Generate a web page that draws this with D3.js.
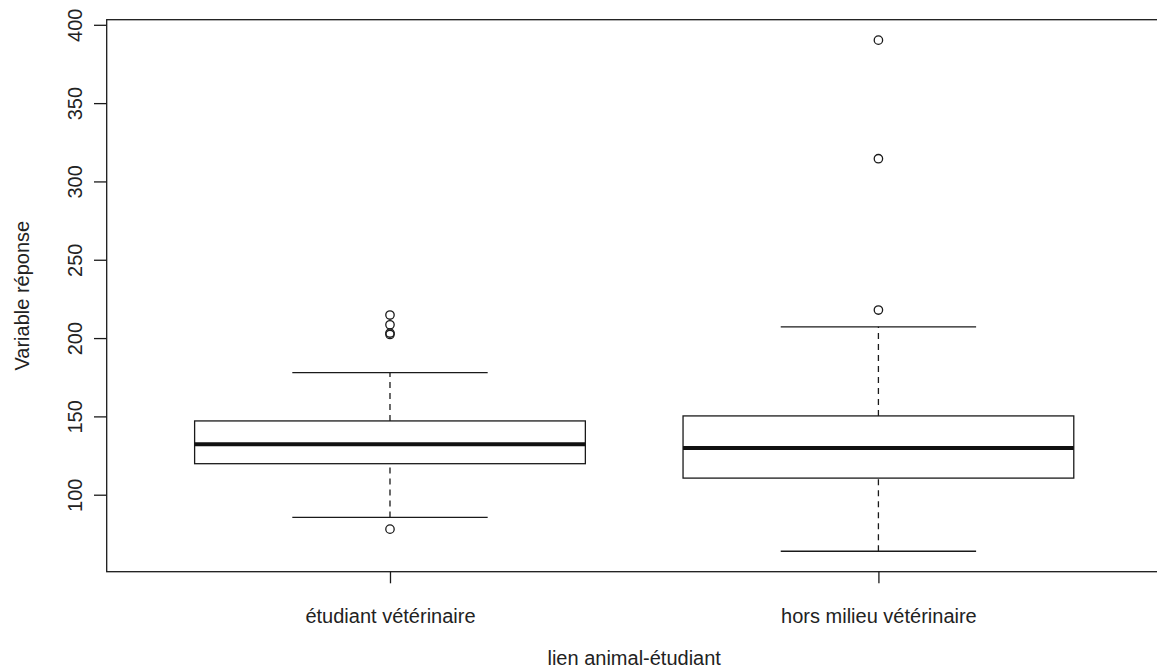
<!DOCTYPE html>
<html>
<head>
<meta charset="utf-8">
<script src="https://cdn.jsdelivr.net/npm/d3@7"></script>
<style>
  html, body { margin: 0; padding: 0; background: #fff; }
  svg { display: block; font-family: "Liberation Sans", Arial, Helvetica, sans-serif; }
</style>
</head>
<body>
<svg id="chart" width="1157" height="671"></svg>
<script>
// ---- data ----
const categories   = ["étudiant vétérinaire", "hors milieu vétérinaire"];
const whiskerLow   = [85.5, 63.9];
const q1           = [119.8, 110.6];
const median       = [132.2, 129.8];
const q3           = [147.1, 150.3];
const whiskerHigh  = [178.0, 207.2];
const outliers     = [[78.0, 202.3, 203.2, 208.5, 214.7], [217.9, 314.5, 390.2]];
const yTicks       = [100, 150, 200, 250, 300, 350, 400];
const xTitle       = "lien animal-étudiant";
const yTitle       = "Variable réponse";

// ---- layout ----
const W = 1157, H = 671;
const plot = { left: 106.7, right: 1161.7, top: 19.7, bottom: 571.7 };
const boxWex = 0.8, stapleWex = 0.5;
const fontSize = 20;
const ink = "#1a1a1a";

const svg = d3.select("#chart");

// y domain as R does: data range extended by 4%
const allVals = [].concat(whiskerLow, whiskerHigh, ...outliers);
const [mn, mx] = d3.extent(allVals);
const pad = (mx - mn) * 0.04;
const y = d3.scaleLinear().domain([mn - pad, mx + pad]).range([plot.bottom, plot.top]);

// x domain: 0.5 .. n+0.5 extended by 4%
const n = categories.length;
const xr = n; // width of 0.5..n+0.5
const x = d3.scaleLinear().domain([0.5 - 0.04 * xr, n + 0.5 + 0.04 * xr]).range([plot.left, plot.right]);

const idx = d3.range(n);
const halfBox = boxWex / 2;
const halfStaple = boxWex * stapleWex / 2;

const g = svg.append("g");

// whiskers (dashed)
g.selectAll(".whiskLo").data(idx).join("line")
  .attr("x1", i => x(i + 1)).attr("x2", i => x(i + 1))
  .attr("y1", i => y(whiskerLow[i])).attr("y2", i => y(q1[i]))
  .attr("stroke", ink).attr("stroke-width", 1.3).attr("stroke-dasharray", "6,5");
g.selectAll(".whiskHi").data(idx).join("line")
  .attr("x1", i => x(i + 1)).attr("x2", i => x(i + 1))
  .attr("y1", i => y(q3[i])).attr("y2", i => y(whiskerHigh[i]))
  .attr("stroke", ink).attr("stroke-width", 1.3).attr("stroke-dasharray", "6,5");

// staples
g.selectAll(".stapLo").data(idx).join("line")
  .attr("x1", i => x(i + 1 - halfStaple)).attr("x2", i => x(i + 1 + halfStaple))
  .attr("y1", i => y(whiskerLow[i])).attr("y2", i => y(whiskerLow[i]))
  .attr("stroke", ink).attr("stroke-width", 1.3);
g.selectAll(".stapHi").data(idx).join("line")
  .attr("x1", i => x(i + 1 - halfStaple)).attr("x2", i => x(i + 1 + halfStaple))
  .attr("y1", i => y(whiskerHigh[i])).attr("y2", i => y(whiskerHigh[i]))
  .attr("stroke", ink).attr("stroke-width", 1.3);

// boxes
g.selectAll(".box").data(idx).join("rect")
  .attr("x", i => x(i + 1 - halfBox))
  .attr("width", i => x(i + 1 + halfBox) - x(i + 1 - halfBox))
  .attr("y", i => y(q3[i]))
  .attr("height", i => y(q1[i]) - y(q3[i]))
  .attr("fill", "#fff").attr("stroke", ink).attr("stroke-width", 1.3);

// medians
g.selectAll(".med").data(idx).join("line")
  .attr("x1", i => x(i + 1 - halfBox)).attr("x2", i => x(i + 1 + halfBox))
  .attr("y1", i => y(median[i])).attr("y2", i => y(median[i]))
  .attr("stroke", "#111").attr("stroke-width", 4);

// outliers
const outPts = [];
outliers.forEach((arr, i) => arr.forEach(v => outPts.push({ i, v })));
g.selectAll(".out").data(outPts).join("circle")
  .attr("cx", d => x(d.i + 1)).attr("cy", d => y(d.v)).attr("r", 4.2)
  .attr("fill", "none").attr("stroke", ink).attr("stroke-width", 1.3);

// plot frame
svg.append("rect")
  .attr("x", plot.left).attr("y", plot.top)
  .attr("width", plot.right - plot.left).attr("height", plot.bottom - plot.top)
  .attr("fill", "none").attr("stroke", ink).attr("stroke-width", 1.3);

// y axis
const yAxis = svg.append("g")
  .attr("transform", `translate(${plot.left},0)`)
  .call(d3.axisLeft(y).tickValues(yTicks).tickSize(12.7).tickFormat(d3.format("d")));
yAxis.select(".domain").remove();
yAxis.selectAll(".tick line").attr("stroke", ink).attr("stroke-width", 1.3);
yAxis.selectAll(".tick text")
  .attr("transform", "rotate(-90)")
  .attr("x", 0).attr("y", -24.8).attr("dy", 0)
  .attr("text-anchor", "middle")
  .attr("fill", "#222")
  .style("font-size", fontSize + "px")
  .style("font-family", "'Liberation Sans', Arial, sans-serif");

// x axis
const xAxis = svg.append("g")
  .attr("transform", `translate(0,${plot.bottom})`)
  .call(d3.axisBottom(x).tickValues(idx.map(i => i + 1)).tickSize(11.6)
        .tickFormat((d, k) => categories[k]));
xAxis.select(".domain").remove();
xAxis.selectAll(".tick line").attr("stroke", ink).attr("stroke-width", 1.3);
xAxis.selectAll(".tick text")
  .attr("y", 51.3).attr("dy", 0)
  .attr("fill", "#222")
  .style("font-size", fontSize + "px")
  .style("font-family", "'Liberation Sans', Arial, sans-serif");

// axis titles
svg.append("text")
  .attr("x", (plot.left + plot.right) / 2).attr("y", 664.5)
  .attr("text-anchor", "middle").attr("fill", "#222")
  .style("font-size", fontSize + "px")
  .text(xTitle);
svg.append("text")
  .attr("transform", `translate(29,${(plot.top + plot.bottom) / 2}) rotate(-90)`)
  .attr("text-anchor", "middle").attr("fill", "#222")
  .style("font-size", fontSize + "px")
  .text(yTitle);
</script>
</body>
</html>
